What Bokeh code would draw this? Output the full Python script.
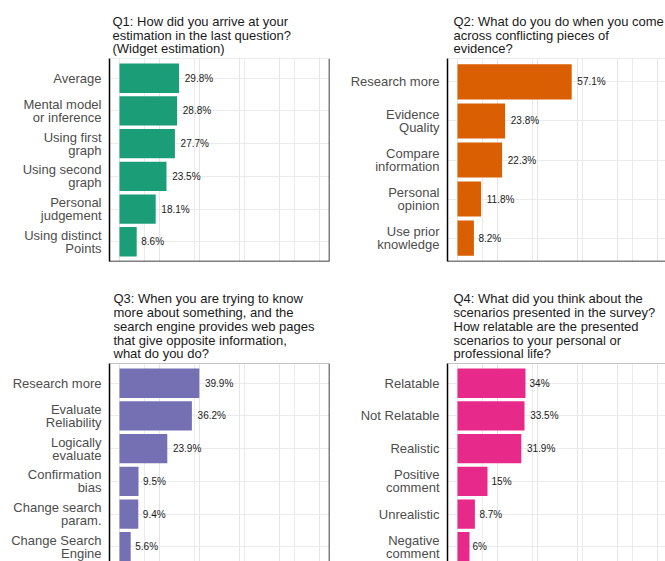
from bokeh.plotting import figure
from bokeh.models import Range1d, FixedTicker, Grid, Span, Title, ColumnDataSource
from bokeh.layouts import column, row
from bokeh.core.properties import value
from bokeh.embed import file_html
from bokeh.resources import INLINE

FONT = "Liberation Sans"

q1_title = ["Q1: How did you arrive at your", "estimation in the last question?", "(Widget estimation)"]
q1_cats = ["Average", "Mental model\nor inference", "Using first\ngraph", "Using second\ngraph",
           "Personal\njudgement", "Using distinct\nPoints"]
q1_vals = [29.8, 28.8, 27.7, 23.5, 18.1, 8.6]

q2_title = ["Q2: What do you do when you come", "across conflicting pieces of", "evidence?"]
q2_cats = ["Research more", "Evidence\nQuality", "Compare\ninformation", "Personal\nopinion",
           "Use prior\nknowledge"]
q2_vals = [57.1, 23.8, 22.3, 11.8, 8.2]

q3_title = ["Q3: When you are trying to know", "more about something, and the",
            "search engine provides web pages", "that give opposite information,", "what do you do?"]
q3_cats = ["Research more", "Evaluate\nReliability", "Logically\nevaluate", "Confirmation\nbias",
           "Change search\nparam.", "Change Search\nEngine"]
q3_vals = [39.9, 36.2, 23.9, 9.5, 9.4, 5.6]

q4_title = ["Q4: What did you think about the", "scenarios presented in the survey?",
            "How relatable are the presented", "scenarios to your personal or", "professional life?"]
q4_cats = ["Relatable", "Not Relatable", "Realistic", "Positive\ncomment", "Unrealistic",
           "Negative\ncomment"]
q4_vals = [34, 33.5, 31.9, 15, 8.7, 6]

colors = ["#1B9E77", "#D95F02", "#7570B3", "#E7298A"]
minor_grid = [12.5, 37.5, 62.5, 87.5]

CHAR_W = {c: 0.556 for c in "0123456789"}
CHAR_W.update({".": 0.278, "%": 0.889})


def text_width(s, size):
    return sum(CHAR_W.get(c, 0.556) for c in s) * size


def panel(title, cats, vals, color, width, height, left, right, top, bottom,
          x_end, y_end, right_border, bottom_border, top_color, title_dx):
    n = len(cats)
    p = figure(width=width, height=height, output_backend="svg", toolbar_location=None,
               x_axis_location=None, y_axis_location="left",
               x_range=Range1d(-5, x_end), y_range=Range1d(y_end, 0.4),
               min_border_left=left, min_border_right=right,
               min_border_top=top, min_border_bottom=bottom)
    p.outline_line_color = None
    p.background_fill_color = "white"
    p.border_fill_color = "white"

    ticker = FixedTicker(ticks=list(range(1, n + 1)))
    ax = p.yaxis[0]
    ax.ticker = ticker
    ax.major_label_overrides = {i + 1: c for i, c in enumerate(cats)}
    ax.major_tick_line_color = None
    ax.minor_tick_line_color = None
    ax.major_tick_out = 0
    ax.major_tick_in = 0
    ax.major_label_standoff = 8
    ax.axis_line_color = "black"
    ax.axis_line_width = 1.5
    ax.major_label_text_font = FONT
    ax.major_label_text_font_size = "13px"
    ax.major_label_text_color = "#4D4D4D"
    ax.major_label_text_line_height = 0.87
    p.ygrid.ticker = ticker
    p.ygrid.grid_line_color = "#EBEBEB"
    p.ygrid.grid_line_width = 1

    xg = Grid(dimension=0, ticker=FixedTicker(ticks=minor_grid), grid_line_color="#EBEBEB",
              grid_line_width=1)
    p.add_layout(xg)

    labels = [f"{v:g}%" for v in vals]
    src = ColumnDataSource(dict(
        y=list(range(1, n + 1)), v=vals, t=labels,
        off=[0.2 * text_width(s, 10) for s in labels]))
    p.hbar(y="y", left=0, right="v", height=0.9, source=src, fill_color=color,
           line_color=None)
    p.text(x="v", y="y", text="t", x_offset="off", source=src, text_font=value(FONT),
           text_font_size="10px", text_baseline="middle", text_align="left",
           text_color="#1A1A1A")

    p.add_layout(Span(location=0.4, dimension="width", line_color=top_color, line_width=1))
    if right_border:
        p.add_layout(Span(location=105, dimension="height", line_color="black", line_width=1.5))
    if bottom_border:
        p.add_layout(Span(location=y_end, dimension="width", line_color="black", line_width=1.5))

    t = Title(text="\n".join(title), align="left", offset=title_dx, standoff=4,
              text_font=FONT, text_font_size="13px", text_font_style="normal",
              text_color="#1A1A1A", text_line_height=0.93)
    p.add_layout(t, "above")
    return p


unit = 203 / 6.2
row2_end = 0.4 + 198 / unit

p1 = panel(q1_title, q1_cats, q1_vals, colors[0], 338, 273, 109, 9, 58, 12,
           105, 6.6, True, True, "#DADADA", 3)
p2 = panel(q2_title, q2_cats, q2_vals, colors[1], 327, 273, 109, 0, 58, 12,
           104, 5.6, False, True, "#DADADA", 6)
p3 = panel(q3_title, q3_cats, q3_vals, colors[2], 338, 288, 109, 9, 90, 0,
           105, row2_end, True, False, "#8C8C8C", 4)
p4 = panel(q4_title, q4_cats, q4_vals, colors[3], 327, 288, 109, 0, 90, 0,
           104, row2_end, False, False, "#8C8C8C", 6)

layout = column(row(p1, p2), row(p3, p4))
open("out.html", "w").write(file_html(layout, INLINE))
